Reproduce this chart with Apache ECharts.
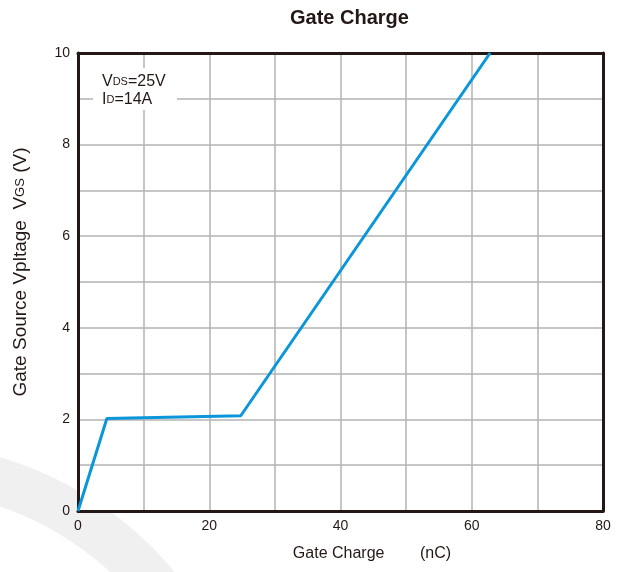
<!DOCTYPE html>
<html>
<head>
<meta charset="utf-8">
<script src="https://cdn.jsdelivr.net/npm/echarts@6/dist/echarts.min.js"></script>
<style>
  html, body { margin: 0; padding: 0; background: #fff; }
  #chart { width: 627px; height: 572px; }
</style>
</head>
<body>
<div id="chart"></div>
<script>
// gate charge curve
const qg = [0, 4.4, 24.8, 62.8];
const vgs = [0, 2.02, 2.08, 10];
const xTicks = [0, 20, 40, 60, 80];
const yTicks = [0, 2, 4, 6, 8, 10];

const chart = echarts.init(document.getElementById('chart'));
const dark = '#231815';
const frame = { show: true, onZero: false, lineStyle: { color: dark, width: 3 } };

chart.setOption({
  animation: false,
  title: {
    text: 'Gate Charge',
    left: 285,
    top: 3,
    textStyle: { fontFamily: 'Liberation Sans', fontSize: 20, fontWeight: 'bold', color: dark }
  },
  graphic: [
    // faint watermark arc behind the plot
    {
      type: 'ring',
      z: -10,
      shape: { cx: -100, cy: 800, r: 357, r0: 310 },
      style: { fill: '#f0f0f0' }
    },
    // white box with the test conditions
    {
      type: 'rect',
      z: 100,
      shape: { x: 93, y: 68, width: 84, height: 42 },
      style: { fill: '#fff' }
    },
    {
      type: 'text',
      z: 101,
      x: 102,
      y: 73,
      style: {
        text: 'V{s|DS}=25V\nI{s|D}=14A',
        fontFamily: 'Liberation Sans',
        fontSize: 16,
        lineHeight: 18,
        fill: dark,
        rich: {
          s: { fontSize: 11, fontFamily: 'Liberation Sans', fill: dark, lineHeight: 18 }
        }
      }
    }
  ],
  grid: {
    left: 78, right: 24, top: 53, bottom: 61,
    show: true,
    backgroundColor: '#fff',
    borderWidth: 0
  },
  xAxis: [
    {
      type: 'value',
      min: 0, max: 80, interval: 10,
      name: 'Gate Charge        (nC)',
      nameLocation: 'middle',
      nameGap: 35,
      nameTextStyle: { fontFamily: 'Liberation Sans', fontSize: 16, color: dark, padding: [0, 0, 0, 63] },
      axisLine: frame,
      axisTick: { show: false },
      axisLabel: {
        margin: 8,
        fontFamily: 'Liberation Sans', fontSize: 14, color: dark,
        formatter: v => (xTicks.includes(v) ? String(v) : '')
      },
      splitLine: { show: true, lineStyle: { color: '#b3b3b3', width: 1.5 } }
    },
    {
      type: 'value', position: 'top',
      min: 0, max: 80,
      axisLine: frame, axisTick: { show: false }, axisLabel: { show: false }, splitLine: { show: false }
    }
  ],
  yAxis: [
    {
      type: 'value',
      min: 0, max: 10, interval: 1,
      name: 'Gate Source Vpltage  V{s|GS} (V)',
      nameLocation: 'middle',
      nameGap: 48,
      nameTextStyle: {
        fontFamily: 'Liberation Sans', fontSize: 19, color: dark,
        padding: [0, 0, 0, 20],
        rich: { s: { fontFamily: 'Liberation Sans', fontSize: 13, color: dark } }
      },
      axisLine: frame,
      axisTick: { show: false },
      axisLabel: {
        margin: 8,
        fontFamily: 'Liberation Sans', fontSize: 14, color: dark,
        formatter: v => (yTicks.includes(v) ? String(v) : '')
      },
      splitLine: { show: true, lineStyle: { color: '#b3b3b3', width: 1.5 } }
    },
    {
      type: 'value', position: 'right',
      min: 0, max: 10,
      axisLine: frame, axisTick: { show: false }, axisLabel: { show: false }, splitLine: { show: false }
    }
  ],
  series: [
    {
      type: 'line',
      data: qg.map((q, i) => [q, vgs[i]]),
      symbol: 'none',
      lineStyle: { color: '#0a96d8', width: 3 },
      z: 5
    }
  ]
});
</script>
</body>
</html>
